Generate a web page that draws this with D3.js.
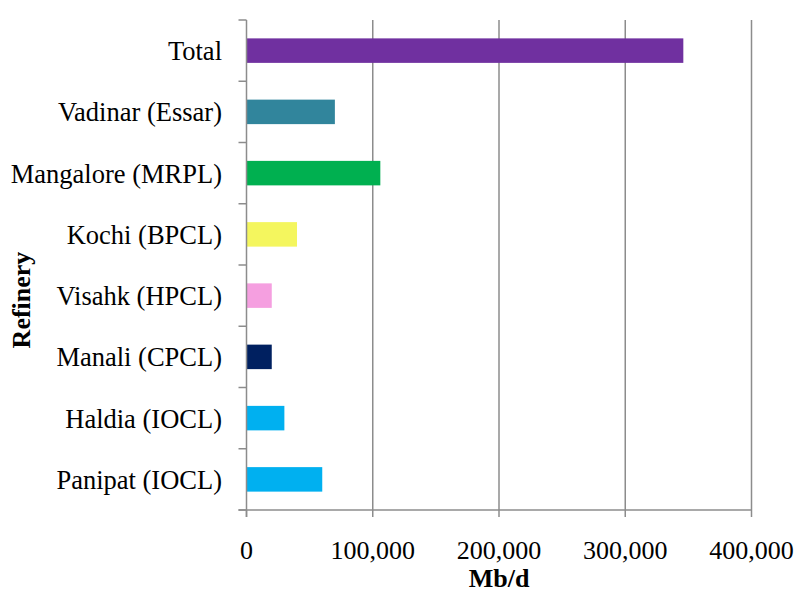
<!DOCTYPE html>
<html><head><meta charset="utf-8">
<script src="https://cdn.jsdelivr.net/npm/d3@7"></script>
<style>body{margin:0;background:#fff}svg{display:block}</style>
</head><body>
<svg id="c" width="798" height="594"></svg>
<script>
const categories = ["Total","Vadinar (Essar)","Mangalore (MRPL)","Kochi (BPCL)","Visahk (HPCL)","Manali (CPCL)","Haldia (IOCL)","Panipat (IOCL)"];
const values = [346000,70000,106000,40000,20000,20000,30000,60000];
const colors = ["#7030A0","#31859C","#00B050","#F4F65E","#F59FE0","#002060","#00B0F0","#00B0F0"];
const xTicks = [0,100000,200000,300000,400000];

const svg = d3.select("#c");
const m = {left:246.5, right:751.5, top:20, bottom:510};
const x = d3.scaleLinear().domain([0,400000]).range([m.left,m.right]);
const y = d3.scaleBand().domain(categories).range([m.top,m.bottom]).paddingInner(0.6).paddingOuter(0.3);
const yb = d3.scaleBand().domain(categories).range([m.top,m.bottom]);
const font = "'Liberation Serif','Times New Roman',serif";
const gray = "#8C8C8C";

// gridlines
svg.append("g").selectAll("line").data(xTicks.slice(1)).join("line")
  .attr("x1",d=>x(d)).attr("x2",d=>x(d)).attr("y1",m.top).attr("y2",m.bottom)
  .attr("stroke",gray).attr("stroke-width",1.5);

// bars
svg.append("g").selectAll("rect").data(categories).join("rect")
  .attr("x",x(0)).attr("y",d=>y(d)).attr("height",y.bandwidth())
  .attr("width",(d,i)=>x(values[i])-x(0)).attr("fill",(d,i)=>colors[i]);

// y axis line + ticks at band boundaries
const yTickPos = categories.map(c=>yb(c)).concat([m.bottom]);
svg.append("line").attr("x1",m.left).attr("x2",m.left).attr("y1",m.top).attr("y2",m.bottom+7)
  .attr("stroke",gray).attr("stroke-width",1.5);
svg.append("g").selectAll("line").data(yTickPos).join("line")
  .attr("x1",m.left-8).attr("x2",m.left).attr("y1",d=>d).attr("y2",d=>d)
  .attr("stroke",gray).attr("stroke-width",1.5);

// x axis
svg.append("line").attr("x1",m.left-8).attr("x2",m.right).attr("y1",m.bottom).attr("y2",m.bottom)
  .attr("stroke",gray).attr("stroke-width",1.5);
svg.append("g").selectAll("line").data(xTicks).join("line")
  .attr("x1",d=>x(d)).attr("x2",d=>x(d)).attr("y1",m.bottom).attr("y2",m.bottom+7)
  .attr("stroke",gray).attr("stroke-width",1.5);

// x tick labels
const fmt = d3.format(",");
svg.append("g").selectAll("text").data(xTicks).join("text")
  .attr("x",d=>x(d)).attr("y",559).attr("text-anchor","middle")
  .attr("font-family",font).attr("font-size",26).attr("fill","#000")
  .text(d=>fmt(d));

// y labels
svg.append("g").selectAll("text").data(categories).join("text")
  .attr("x",222).attr("y",d=>yb(d)+yb.bandwidth()/2).attr("dy","0.36em").attr("text-anchor","end")
  .attr("font-family",font).attr("font-size",26.5).attr("fill","#000")
  .text(d=>d);

// titles
svg.append("text").attr("x",(m.left+m.right)/2).attr("y",587).attr("text-anchor","middle")
  .attr("font-family",font).attr("font-size",26).attr("font-weight","bold").text("Mb/d");
svg.append("text").attr("transform","translate(30,300) rotate(-90)").attr("text-anchor","middle")
  .attr("font-family",font).attr("font-size",26).attr("font-weight","bold").text("Refinery");
</script>
</body></html>
